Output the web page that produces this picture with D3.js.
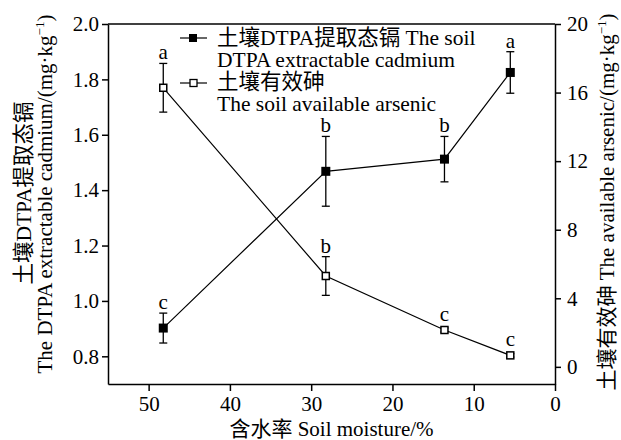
<!DOCTYPE html>
<html>
<head>
<meta charset="utf-8">
<script src="https://cdn.jsdelivr.net/npm/d3@7"></script>
<style>
  body { margin: 0; background: #fff; }
  svg text { fill: #000; }
</style>
</head>
<body>
<div id="chart"></div>
<script>
var svgWidth = 621;
var svgHeight = 440;
var serif = "'Liberation Serif', 'Times New Roman', 'Noto Sans CJK SC', serif";

var margin = { top: 24, right: 66, bottom: 56, left: 108 };
var width = svgWidth - margin.left - margin.right;
var height = svgHeight - margin.top - margin.bottom;

// data
var moisture = [48.2, 28.2, 13.6, 5.5];
var cadmium = [0.902, 1.468, 1.512, 1.825];
var cadmiumErr = [0.054, 0.126, 0.082, 0.075];
var cadmiumLetters = ["c", "b", "b", "a"];
var arsenic = [16.28, 5.30, 2.15, 0.67];
var arsenicErr = [1.42, 1.13, 0.12, 0.1];
var arsenicLetters = ["a", "b", "c", "c"];

var xTicks = [50, 40, 30, 20, 10, 0];
var leftTicks = [0.8, 1.0, 1.2, 1.4, 1.6, 1.8, 2.0];
var rightTicks = [0, 4, 8, 12, 16, 20];

var svg = d3.select("#chart")
    .append("svg")
    .attr("width", svgWidth)
    .attr("height", svgHeight)
    .style("font-family", serif);

var chartGroup = svg.append("g")
    .attr("transform", `translate(${margin.left}, ${margin.top})`);

var xScale = d3.scaleLinear().domain([55, 0]).range([0, width]);
var yLeft = d3.scaleLinear().domain([0.7, 2.0]).range([height, 0]);
var yRight = d3.scaleLinear().domain([-1, 20]).range([height, 0]);

function styleAxis(g) {
    g.attr("font-family", null).attr("font-size", null);
    g.selectAll("path, line").attr("stroke", "#000").attr("stroke-width", 1.5);
    g.selectAll("text").style("font-family", serif).style("font-size", "21px");
}

// top frame line
chartGroup.append("line")
    .attr("x1", 0).attr("x2", width)
    .attr("y1", 0).attr("y2", 0)
    .attr("stroke", "#000").attr("stroke-width", 1.5);

chartGroup.append("g")
    .attr("transform", `translate(0, ${height})`)
    .call(d3.axisBottom(xScale).tickValues(xTicks).tickSize(7).tickPadding(5).tickSizeOuter(0))
    .call(styleAxis);

chartGroup.append("g")
    .call(d3.axisLeft(yLeft).tickValues(leftTicks).tickFormat(d3.format(".1f")).tickSize(6).tickPadding(3).tickSizeOuter(0))
    .call(styleAxis);

chartGroup.append("g")
    .attr("transform", `translate(${width}, 0)`)
    .call(d3.axisRight(yRight).tickValues(rightTicks).tickSize(6).tickPadding(6).tickSizeOuter(0))
    .call(styleAxis);

function drawSeries(values, errs, letters, yScale, filled) {
    var pts = moisture.map(function(m, i) {
        return { x: m, y: values[i], e: errs[i], letter: letters[i] };
    });

    var line = d3.line()
        .x(d => xScale(d.x))
        .y(d => yScale(d.y));

    chartGroup.append("path")
        .datum(pts)
        .attr("d", line)
        .attr("fill", "none")
        .attr("stroke", "#000")
        .attr("stroke-width", 1.2);

    var g = chartGroup.append("g");

    pts.forEach(function(d) {
        var cx = xScale(d.x);
        var top = yScale(d.y + d.e);
        var bot = yScale(d.y - d.e);
        g.append("line").attr("x1", cx).attr("x2", cx).attr("y1", top).attr("y2", bot)
            .attr("stroke", "#000").attr("stroke-width", 1.3);
        g.append("line").attr("x1", cx - 4).attr("x2", cx + 4).attr("y1", top).attr("y2", top)
            .attr("stroke", "#000").attr("stroke-width", 1.3);
        g.append("line").attr("x1", cx - 4).attr("x2", cx + 4).attr("y1", bot).attr("y2", bot)
            .attr("stroke", "#000").attr("stroke-width", 1.3);

        if (filled) {
            g.append("rect").attr("x", cx - 4.5).attr("y", yScale(d.y) - 4.5)
                .attr("width", 9).attr("height", 9).attr("fill", "#000");
        } else {
            g.append("rect").attr("x", cx - 3.5).attr("y", yScale(d.y) - 3.5)
                .attr("width", 7).attr("height", 7)
                .attr("fill", "#fff").attr("stroke", "#000").attr("stroke-width", 1.5);
        }

        var labelY = Math.min(top, yScale(d.y) - 5) - 4;
        g.append("text")
            .attr("x", cx)
            .attr("y", labelY)
            .attr("text-anchor", "middle")
            .style("font-family", serif)
            .style("font-size", "21px")
            .text(d.letter);
    });
}

drawSeries(cadmium, cadmiumErr, cadmiumLetters, yLeft, true);
drawSeries(arsenic, arsenicErr, arsenicLetters, yRight, false);

// legend
var legend = svg.append("g").attr("transform", "translate(180, 0)");

legend.append("line").attr("x1", 0).attr("x2", 27).attr("y1", 38).attr("y2", 38)
    .attr("stroke", "#000").attr("stroke-width", 1.2);
legend.append("rect").attr("x", 9).attr("y", 34).attr("width", 8).attr("height", 8).attr("fill", "#000");

legend.append("line").attr("x1", 0).attr("x2", 27).attr("y1", 83).attr("y2", 83)
    .attr("stroke", "#000").attr("stroke-width", 1.2);
legend.append("rect").attr("x", 10).attr("y", 79.5).attr("width", 7).attr("height", 7)
    .attr("fill", "#fff").attr("stroke", "#000").attr("stroke-width", 1.3);

var legendLines = [
    "土壤DTPA提取态镉 The soil",
    "DTPA extractable cadmium",
    "土壤有效砷",
    "The soil available arsenic"
];
var legendBase = [45, 67, 89, 111];

legend.selectAll("text.leg")
    .data(legendLines)
    .enter()
    .append("text")
    .attr("class", "leg")
    .attr("x", 37)
    .attr("y", (d, i) => legendBase[i])
    .style("font-family", serif)
    .style("font-size", "21.5px")
    .text(d => d);

// axis titles
svg.append("text")
    .attr("transform", "translate(31, 193) rotate(-90)")
    .attr("text-anchor", "middle")
    .style("font-family", serif)
    .style("font-size", "21.5px")
    .text("土壤DTPA提取态镉");

var leftTitle = svg.append("text")
    .attr("transform", "translate(52, 194) rotate(-90)")
    .attr("text-anchor", "middle")
    .style("font-family", serif)
    .style("font-size", "21px");
leftTitle.append("tspan").text("The DTPA extractable cadmium/(mg·kg");
leftTitle.append("tspan").attr("dy", -8).style("font-size", "13px").text("−1");
leftTitle.append("tspan").attr("dy", 8).text(")");

var rightTitle = svg.append("text")
    .attr("transform", "translate(614, 202) rotate(-90)")
    .attr("text-anchor", "middle")
    .style("font-family", serif)
    .style("font-size", "21px");
rightTitle.append("tspan").text("土壤有效砷 The available arsenic/(mg·kg");
rightTitle.append("tspan").attr("dy", -8).style("font-size", "13px").text("−1");
rightTitle.append("tspan").attr("dy", 8).text(")");

svg.append("text")
    .attr("x", margin.left + width / 2)
    .attr("y", 436)
    .attr("text-anchor", "middle")
    .style("font-family", serif)
    .style("font-size", "21px")
    .text("含水率 Soil moisture/%");
</script>
</body>
</html>
